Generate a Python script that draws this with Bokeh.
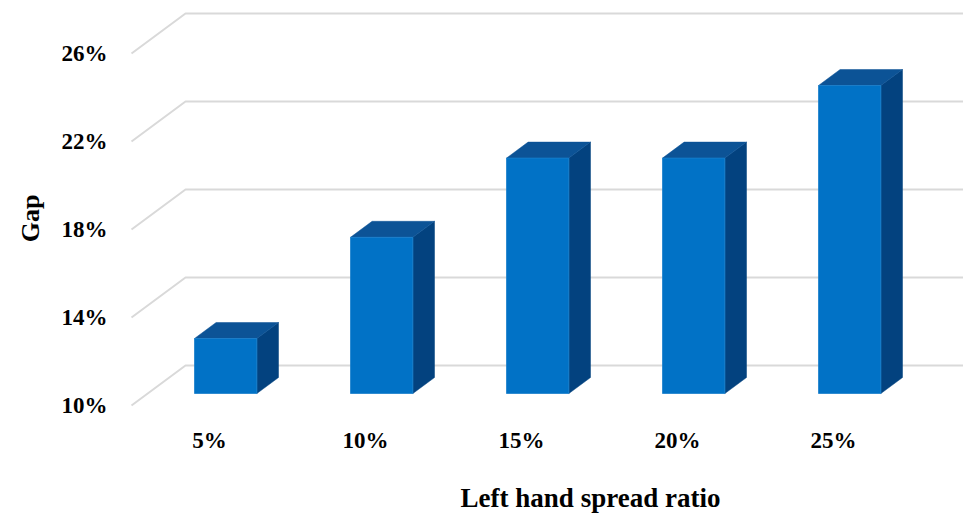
from bokeh.plotting import figure
from bokeh.models import Range1d
from bokeh.core.properties import value
from bokeh.embed import file_html
from bokeh.resources import INLINE

# Data
categories = ["5%", "10%", "15%", "20%", "25%"]
gap_values = [12.5, 17.1, 20.7, 20.7, 24.0]   # percent
y_ticks = [10, 14, 18, 22, 26]
y_tick_labels = ["10%", "14%", "18%", "22%", "26%"]

W, H = 963, 513

# Oblique projection for the pseudo-3D look: depth d in [0, 1] shifts
# a point right (DX category units) and up (DY percent units).
DX = 54 / 156
DY = 40 / 22
BAR_W = 0.4        # bar width in category units
D0, BAR_D = 0.3, 0.4   # bar depth start and depth thickness
BASE = 10.0

p = figure(width=W, height=H, output_backend="svg", toolbar_location=None,
           x_axis_location=None, y_axis_location=None,
           x_range=Range1d(-209 / 156, (W - 209) / 156),
           y_range=Range1d(BASE - (H - 405) / 22, BASE + 405 / 22),
           min_border=0, outline_line_color=None,
           background_fill_color="white", border_fill_color="white")
p.grid.visible = False

n = len(categories)
x_left, x_right = -0.5, n - 0.5

# Back wall / floor gridlines: diagonal up the left side, then along the back wall
grid_xs, grid_ys = [], []
for t in y_ticks:
    grid_xs.append([x_left, x_left + DX, x_right + DX])
    grid_ys.append([t, t + DY, t + DY])
p.multi_line(grid_xs, grid_ys, line_color="#D9D9D9", line_width=2)

# Bars
front_xs, front_ys, top_xs, top_ys, side_xs, side_ys = [], [], [], [], [], []
for i, v in enumerate(gap_values):
    xl = i - BAR_W / 2 + D0 * DX
    xr = i + BAR_W / 2 + D0 * DX
    yb = BASE + D0 * DY
    yt = v + D0 * DY
    ddx, ddy = BAR_D * DX, BAR_D * DY
    front_xs.append([xl, xr, xr, xl]); front_ys.append([yb, yb, yt, yt])
    top_xs.append([xl, xr, xr + ddx, xl + ddx]); top_ys.append([yt, yt, yt + ddy, yt + ddy])
    side_xs.append([xr, xr + ddx, xr + ddx, xr]); side_ys.append([yb, yb + ddy, yt + ddy, yt])

p.patches(side_xs, side_ys, fill_color="#03427F", line_color="#03427F", line_width=0.5)
p.patches(top_xs, top_ys, fill_color="#0C5396", line_color="#0C5396", line_width=0.5)
p.patches(front_xs, front_ys, fill_color="#0172C6", line_color="#1A7FCB", line_width=0.8)

FONT = value("Liberation Serif")

# Value axis labels at the front-left corner
p.text(x=[x_left - 24 / 156] * len(y_ticks), y=y_ticks, text=y_tick_labels,
       text_font=FONT, text_font_style="bold", text_font_size="23px",
       text_align="right", text_baseline="middle", text_color="black")

# Category labels along the front edge
p.text(x=list(range(n)), y=[BASE - 35 / 22] * n, text=categories,
       text_font=FONT, text_font_style="bold", text_font_size="23px",
       text_align="center", text_baseline="middle", text_color="black")

# Axis titles
p.text(x=[(30 - 209) / 156], y=[BASE + (405 - 218) / 22], text=["Gap"], angle=1.5708,
       text_font=FONT, text_font_style="bold", text_font_size="26px",
       text_align="center", text_baseline="middle", text_color="black")
p.text(x=[(590 - 209) / 156], y=[BASE + (405 - 497) / 22], text=["Left hand spread ratio"],
       text_font=FONT, text_font_style="bold", text_font_size="27px",
       text_align="center", text_baseline="middle", text_color="black")

open("out.html", "w").write(file_html(p, INLINE))
